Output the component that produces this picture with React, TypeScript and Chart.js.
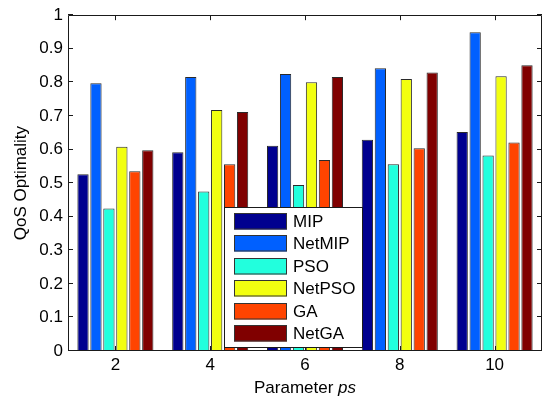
import React, { useEffect, useRef } from "react";
import { Chart, registerables } from "chart.js";

Chart.register(...registerables);

const categories = ["2", "4", "6", "8", "10"];
const seriesNames = ["MIP", "NetMIP", "PSO", "NetPSO", "GA", "NetGA"];
const mip = [0.526, 0.592, 0.611, 0.629, 0.652];
const netMip = [0.797, 0.816, 0.825, 0.842, 0.949];
const pso = [0.424, 0.475, 0.494, 0.556, 0.582];
const netPso = [0.608, 0.718, 0.8, 0.81, 0.818];
const ga = [0.535, 0.556, 0.569, 0.604, 0.621];
const netGa = [0.598, 0.712, 0.816, 0.829, 0.851];
const seriesColors = ["#00008F", "#0060FF", "#22FFDD", "#F2FF10", "#FF4400", "#800000"];
const yMin = 0;
const yMax = 1;
const yStep = 0.1;
const xTitleNormal = "Parameter ";
const xTitleItalic = "ps";
const yTitle = "QoS Optimality";

const FONT = "'Liberation Sans', Arial, Helvetica, sans-serif";
const FS = 17;

const framePlugin = {
  id: "matlabFrame",
  afterDatasetsDraw(chart: any) {
    const { ctx, chartArea } = chart;
    const { left, right, top, bottom } = chartArea;
    ctx.save();
    ctx.strokeStyle = "#1a1a1a";
    ctx.lineWidth = 1;
    ctx.beginPath();
    ctx.rect(Math.round(left) + 0.5, Math.round(top) + 0.5, Math.round(right - left) - 1, Math.round(bottom - top) - 1);
    ctx.stroke();
    const tl = 5;
    const ys = chart.scales.y;
    ctx.beginPath();
    ys.ticks.forEach((t: any) => {
      const py = Math.round(ys.getPixelForValue(t.value)) - 0.5;
      ctx.moveTo(left, py);
      ctx.lineTo(left + tl, py);
      ctx.moveTo(right - tl, py);
      ctx.lineTo(right, py);
    });
    const xs = chart.scales.x;
    xs.ticks.forEach((_t: any, i: number) => {
      const px = Math.round(xs.getPixelForTick(i)) + 0.5;
      ctx.moveTo(px, bottom);
      ctx.lineTo(px, bottom - tl);
      ctx.moveTo(px, top);
      ctx.lineTo(px, top + tl);
    });
    ctx.stroke();
    ctx.restore();
  },
  afterDraw(chart: any) {
    const { ctx, chartArea } = chart;
    ctx.save();
    // axis titles
    ctx.fillStyle = "#000";
    ctx.font = `${FS}px ${FONT}`;
    const wN = ctx.measureText(xTitleNormal).width;
    ctx.font = `italic ${FS}px ${FONT}`;
    const wI = ctx.measureText(xTitleItalic).width;
    const cx = (chartArea.left + chartArea.right) / 2;
    const startX = cx - (wN + wI) / 2;
    ctx.textBaseline = "alphabetic";
    ctx.textAlign = "left";
    ctx.font = `${FS}px ${FONT}`;
    ctx.fillText(xTitleNormal, startX, 393);
    ctx.font = `italic ${FS}px ${FONT}`;
    ctx.fillText(xTitleItalic, startX + wN, 393);

    ctx.font = `${FS}px ${FONT}`;
    ctx.translate(21, (chartArea.top + chartArea.bottom) / 2);
    ctx.rotate(-Math.PI / 2);
    ctx.textAlign = "center";
    ctx.textBaseline = "middle";
    ctx.fillText(yTitle, 0, 0);
    ctx.restore();

    // legend
    ctx.save();
    const ds = chart.data.datasets;
    ctx.font = `${FS}px ${FONT}`;
    let maxW = 0;
    ds.forEach((d: any) => {
      maxW = Math.max(maxW, ctx.measureText(d.label).width);
    });
    const boxL = 224.5;
    const boxT = 207.5;
    const rowH = 22.5;
    const swX = 234;
    const swW = 53;
    const swH = 16.5;
    const txtX = 293;
    const boxR = txtX + maxW + 7;
    const boxB = boxT + 140;
    ctx.fillStyle = "#fff";
    ctx.fillRect(boxL, boxT, boxR - boxL, boxB - boxT);
    ctx.strokeStyle = "#1a1a1a";
    ctx.lineWidth = 1;
    ctx.strokeRect(boxL, boxT, Math.round(boxR - boxL), boxB - boxT);
    ds.forEach((d: any, i: number) => {
      const sy = 212.5 + i * rowH;
      ctx.fillStyle = d.backgroundColor;
      ctx.fillRect(swX, Math.round(sy), swW, swH);
      ctx.strokeStyle = "#333";
      ctx.strokeRect(swX + 0.5, Math.round(sy) + 0.5, swW - 1, swH - 1);
      ctx.fillStyle = "#000";
      ctx.textAlign = "left";
      ctx.textBaseline = "middle";
      ctx.fillText(d.label, txtX, Math.round(sy) + swH / 2 + 1);
    });
    ctx.restore();
  },
};

export default function App() {
  const canvasRef = useRef<HTMLCanvasElement | null>(null);

  useEffect(() => {
    if (!canvasRef.current) return;
    const seriesValues = [mip, netMip, pso, netPso, ga, netGa];
    const chart = new Chart(canvasRef.current, {
      type: "bar",
      data: {
        labels: categories,
        datasets: seriesValues.map((vals, i) => ({
          label: seriesNames[i],
          data: vals,
          backgroundColor: seriesColors[i],
          borderColor: "#2a2a2a",
          borderWidth: 1,
          categoryPercentage: 0.82,
          barPercentage: 0.87,
        })),
      },
      options: {
        responsive: false,
        animation: false,
        devicePixelRatio: 1,
        layout: { padding: { top: 9, right: 1, left: 0, bottom: 0 } },
        plugins: {
          legend: { display: false },
          tooltip: { enabled: false },
          title: { display: false },
        },
        scales: {
          x: {
            grid: { display: false, drawTicks: false },
            border: { display: false },
            ticks: {
              color: "#000",
              font: { family: FONT, size: FS },
              padding: 4,
              maxRotation: 0,
            },
            afterFit: (s: any) => {
              s.height = 48;
            },
          },
          y: {
            min: yMin,
            max: yMax,
            grid: { display: false, drawTicks: false },
            border: { display: false },
            ticks: {
              stepSize: yStep,
              color: "#000",
              font: { family: FONT, size: FS },
              padding: 5,
              callback: (v: any) => String(+Number(v).toFixed(1)),
            },
            afterFit: (s: any) => {
              s.width = 68;
            },
          },
        },
      },
      plugins: [framePlugin],
    } as any);
    return () => chart.destroy();
  }, []);

  return (
    <div style={{ position: "fixed", left: 0, top: 0, width: 543, height: 399, background: "#fff" }}>
      <canvas ref={canvasRef} width={543} height={399} style={{ display: "block" }} />
    </div>
  );
}
